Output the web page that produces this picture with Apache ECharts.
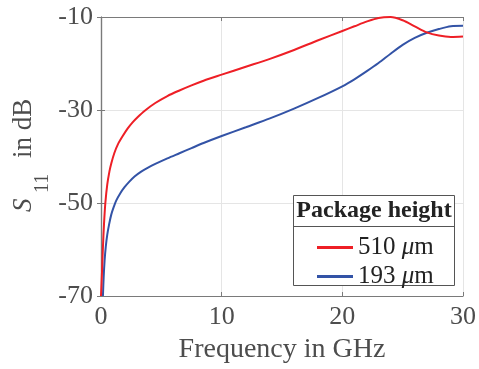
<!DOCTYPE html>
<html>
<head>
<meta charset="utf-8">
<script src="https://cdn.jsdelivr.net/npm/echarts@6/dist/echarts.min.js"></script>
<style>html,body{margin:0;padding:0;background:#fff}#c{width:479px;height:369px}</style>
</head>
<body>
<div id="c"></div>
<script>
// Frequency in GHz and S11 in dB
var redFreq = [0, 0.08, 0.16, 0.25, 0.36, 0.52, 0.7, 0.85, 1.1, 1.4, 1.8, 2.2, 2.6, 3.05, 3.6, 4.5, 5.5, 6.5, 7.5, 8.5, 10, 12, 14, 16, 18, 20, 21, 22, 23, 24, 25, 26, 27, 28, 29, 30];
var redS11 = [-70, -65, -59.5, -54.5, -50, -46, -43.2, -41.5, -39.3, -37.4, -35.6, -34.0, -32.7, -31.5, -30.2, -28.5, -27.0, -25.8, -24.7, -23.7, -22.4, -20.7, -19.0, -17.1, -15.0, -13.0, -12.0, -11.0, -10.2, -10.0, -10.7, -12.0, -13.3, -14.0, -14.3, -14.2];
var blueFreq = [0.16, 0.22, 0.3, 0.4, 0.52, 0.68, 0.85, 1.05, 1.26, 1.6, 1.95, 2.35, 2.78, 3.3, 3.9, 4.5, 5.5, 6.5, 7.5, 8.5, 10, 12, 14, 16, 18, 20, 21, 22, 23, 24, 25, 26, 27, 28, 29, 30];
var blueS11 = [-70, -66, -62.3, -59.3, -56.8, -54.5, -52.5, -50.9, -49.5, -47.9, -46.6, -45.4, -44.3, -43.3, -42.4, -41.6, -40.4, -39.3, -38.2, -37.1, -35.6, -33.7, -31.8, -29.7, -27.4, -24.9, -23.4, -21.7, -19.9, -17.9, -16.0, -14.5, -13.4, -12.6, -12.0, -11.9];
var seriesNames = ['510 μm', '193 μm'];
var legendTitle = 'Package height';
var xTicks = [0, 10, 20, 30];
var yTicks = [-70, -50, -30, -10];

function pairs(xs, ys) { return xs.map(function (x, i) { return [x, ys[i]]; }); }

var FONT = '"Liberation Serif", "DejaVu Serif", serif';
var TXT = '#4d4d4d';
var AX = '#7a7a7a';
var RED = '#ee1f26';
var BLUE = '#3353a6';

var chart = echarts.init(document.getElementById('c'), null, { renderer: 'canvas' });

var baseAxis = {
  axisLine: { show: true, lineStyle: { color: AX, width: 1.2 } },
  axisTick: { show: true, inside: true, length: 4, lineStyle: { color: AX } },
  splitLine: { show: false },
  axisLabel: { show: false }
};

chart.setOption({
  animation: false,
  backgroundColor: '#fff',
  grid: { left: 101, right: 14, top: 17, bottom: 73, containLabel: false },
  xAxis: [
    Object.assign({}, baseAxis, {
      type: 'value', min: 0, max: 30, interval: 10, position: 'bottom',
      splitLine: { show: true, lineStyle: { color: '#e5e5e5', width: 1 } },
      axisLabel: { show: true, color: TXT, fontFamily: FONT, fontSize: 26, margin: 8,
        formatter: function (v) { return xTicks.indexOf(v) >= 0 ? String(v) : ''; } },
      name: 'Frequency in GHz', nameLocation: 'middle', nameGap: 40,
      nameTextStyle: { color: TXT, fontFamily: FONT, fontSize: 28 }
    }),
    Object.assign({}, baseAxis, {
      type: 'value', min: 0, max: 30, interval: 10, position: 'top', gridIndex: 0
    })
  ],
  yAxis: [
    Object.assign({}, baseAxis, {
      type: 'value', min: -70, max: -10, interval: 20, position: 'left',
      splitLine: { show: true, lineStyle: { color: '#e5e5e5', width: 1 } },
      axisLabel: { show: true, color: TXT, fontFamily: FONT, fontSize: 26, margin: 8,
        formatter: function (v) { return yTicks.indexOf(v) >= 0 ? String(v) : ''; } }
    }),
    Object.assign({}, baseAxis, {
      type: 'value', min: -70, max: -10, interval: 20, position: 'right', gridIndex: 0
    })
  ],
  legend: {
    orient: 'vertical',
    left: 312, top: 230,
    z: 20,
    itemWidth: 36, itemHeight: 3, itemGap: 4,
    icon: 'rect',
    data: seriesNames,
    textStyle: { color: '#222', fontFamily: FONT, fontSize: 25,
      rich: {
        n: { fontFamily: FONT, fontSize: 25, color: '#222', lineHeight: 25 },
        i: { fontFamily: FONT, fontSize: 25, fontStyle: 'italic', color: '#222', lineHeight: 25 }
      }
    },
    formatter: function (name) {
      var parts = name.split(' ');
      return '{n|' + parts[0] + ' }{i|μ}{n|m}';
    }
  },
  graphic: [
    { type: 'rect', shape: { x: 293.5, y: 195.5, width: 161, height: 90 },
      style: { fill: '#fff', stroke: '#555', lineWidth: 1 }, z: 1 },
    { type: 'line', shape: { x1: 293.5, y1: 226.5, x2: 454.5, y2: 226.5 },
      style: { stroke: '#555', lineWidth: 1 }, z: 2 },
    { type: 'text', x: 374, y: 211, z: 2,
      style: { text: legendTitle, fill: '#222', font: 'bold 24px ' + FONT, textAlign: 'center', textVerticalAlign: 'middle' } },
    { type: 'text', x: 24, y: 212, rotation: Math.PI / 2, z: 2,
      style: { text: 'S', fill: TXT, font: 'italic 27px ' + FONT, textAlign: 'left', textVerticalAlign: 'middle' } },
    { type: 'text', x: 43, y: 193, rotation: Math.PI / 2, z: 2,
      style: { text: '11', fill: TXT, font: '20px ' + FONT, textAlign: 'left', textVerticalAlign: 'middle' } },
    { type: 'text', x: 24, y: 158, rotation: Math.PI / 2, z: 2,
      style: { text: 'in dB', fill: TXT, font: '27px ' + FONT, textAlign: 'left', textVerticalAlign: 'middle' } }
  ],
  series: [
    { name: seriesNames[0], type: 'line', data: pairs(redFreq, redS11), smooth: 0.3,
      symbol: 'none', lineStyle: { color: RED, width: 2 }, itemStyle: { color: RED }, z: 3 },
    { name: seriesNames[1], type: 'line', data: pairs(blueFreq, blueS11), smooth: 0.3,
      symbol: 'none', lineStyle: { color: BLUE, width: 2 }, itemStyle: { color: BLUE }, z: 2 }
  ]
});
</script>
</body>
</html>
